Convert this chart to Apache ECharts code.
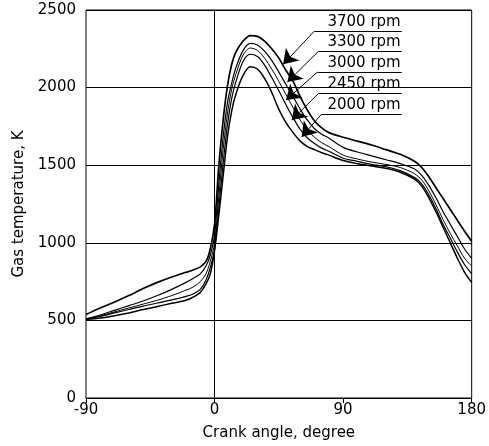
<!DOCTYPE html>
<html>
<head>
<meta charset="utf-8">
<script src="https://cdn.jsdelivr.net/npm/echarts@6/dist/echarts.min.js"></script>
<style>html,body{margin:0;padding:0;background:#fff}#c{width:489px;height:446px}</style>
</head>
<body>
<div id="c"></div>
<script>
const crankAngle = [-90,-80,-70,-60,-50,-40,-30,-20,-15,-10,-6,-3,0,3,6,9,12,15,20,25,30,35,40,45,50,55,60,65,70,75,80,90,100,110,120,130,140,145,150,155,160,165,170,175,180];
const t3700 = [538,580,618,660,705,745,780,810,825,845,880,960,1120,1500,1790,2010,2150,2230,2300,2335,2330,2300,2250,2190,2110,2040,1940,1855,1785,1740,1710,1680,1655,1630,1600,1570,1525,1485,1425,1355,1285,1215,1145,1075,1010];
const t3300 = [510,535,565,595,625,660,700,745,770,800,850,920,1050,1380,1680,1900,2030,2130,2240,2285,2275,2235,2175,2100,2020,1940,1860,1790,1735,1700,1675,1615,1585,1560,1535,1510,1475,1435,1370,1290,1200,1120,1040,960,900];
const t3000 = [510,530,555,580,605,630,660,695,715,750,800,880,1000,1300,1600,1830,1990,2090,2210,2255,2240,2190,2120,2040,1955,1870,1790,1725,1680,1645,1620,1565,1540,1520,1505,1485,1445,1405,1335,1245,1150,1060,980,900,850];
const t2450 = [505,525,548,570,592,612,632,655,670,700,760,840,960,1230,1510,1760,1930,2040,2170,2215,2200,2145,2065,1980,1890,1805,1730,1675,1640,1610,1590,1545,1525,1505,1490,1465,1420,1380,1310,1220,1120,1030,940,860,800];
const t2000 = [505,515,530,548,570,590,610,630,650,680,735,800,950,1180,1430,1680,1850,1960,2080,2135,2120,2060,1970,1860,1775,1710,1655,1620,1600,1580,1565,1530,1510,1495,1480,1455,1410,1365,1290,1200,1100,1000,900,810,745];
const seriesNames = ['3700 rpm','3300 rpm','3000 rpm','2450 rpm','2000 rpm'];
const xTicks = [-90, 0, 90, 180];
const yTicks = [0, 500, 1000, 1500, 2000, 2500];
// annotation leaders (data coordinates)
const arrowTipX = [48, 51, 50, 54, 61];
const arrowTipY = [2150, 2036, 1920, 1791, 1682];
const leaderX = [70, 73, 72, 73, 75];
const leaderY = [2365, 2236, 2100, 1965, 1830];
const underlineEndX = 131;

const allT = [t3700, t3300, t3000, t2450, t2000];
const widths = [1.7, 1.2, 1.0, 1.2, 1.5];
const FONT = 'DejaVu Sans';

const series = allT.map((arr, i) => ({
  name: seriesNames[i],
  type: 'line',
  data: crankAngle.map((x, j) => [x, arr[j]]),
  symbol: 'none',
  smooth: 0.3,
  lineStyle: { color: '#000', width: widths[i] },
  z: 3
}));

// vertical gridline at 0
series[0].markLine = {
  silent: true, symbol: 'none', animation: false,
  label: { show: false },
  lineStyle: { color: '#000', width: 1, type: 'solid' },
  data: [{ xAxis: xTicks[1] }]
};

// annotation leaders with arrows and underlined labels
const annData = [];
seriesNames.forEach((nm, i) => {
  annData.push([
    { coord: [leaderX[i], leaderY[i]], symbol: 'none' },
    { coord: [arrowTipX[i], arrowTipY[i]], symbol: 'arrow', symbolSize: 14 }
  ]);
  annData.push([
    { coord: [leaderX[i], leaderY[i]], symbol: 'none',
      label: { show: true, formatter: nm, position: 'insideEndTop', distance: 1,
               color: '#000', fontFamily: FONT, fontSize: 15 } },
    { coord: [underlineEndX, leaderY[i]], symbol: 'none' }
  ]);
});
series.push({
  type: 'line', data: [], silent: true,
  markLine: {
    silent: true, animation: false,
    symbol: ['none', 'none'],
    label: { show: false },
    lineStyle: { color: '#000', width: 1, type: 'solid' },
    data: annData
  }
});

const chart = echarts.init(document.getElementById('c'), null, { renderer: 'canvas' });
chart.setOption({
  animation: false,
  backgroundColor: '#fff',
  grid: { left: 86, right: 17, top: 10, bottom: 48, show: true, borderColor: '#000', borderWidth: 1, backgroundColor: 'transparent' },
  xAxis: {
    type: 'value', min: xTicks[0], max: xTicks[xTicks.length - 1], interval: 90,
    name: 'Crank angle, degree', nameLocation: 'middle', nameGap: 28,
    nameTextStyle: { color: '#000', fontFamily: FONT, fontSize: 15 },
    axisLine: { lineStyle: { color: '#000', width: 1 } },
    axisTick: { show: true, inside: false, length: 5, lineStyle: { color: '#000' } },
    axisLabel: { color: '#000', fontFamily: FONT, fontSize: 15, margin: 5, formatter: v => String(v) },
    splitLine: { show: false }
  },
  yAxis: {
    type: 'value', min: yTicks[0], max: yTicks[yTicks.length - 1], interval: 500,
    name: 'Gas temperature, K', nameLocation: 'middle', nameGap: 54,
    nameTextStyle: { color: '#000', fontFamily: FONT, fontSize: 15 },
    axisLine: { show: true, lineStyle: { color: '#000', width: 1 } },
    axisTick: { show: true, inside: false, length: 6, lineStyle: { color: '#000' } },
    axisLabel: { color: '#000', fontFamily: FONT, fontSize: 15, margin: 10, formatter: v => String(v) },
    splitLine: { show: true, lineStyle: { color: '#000', width: 1 } }
  },
  series: series
});
</script>
</body>
</html>
